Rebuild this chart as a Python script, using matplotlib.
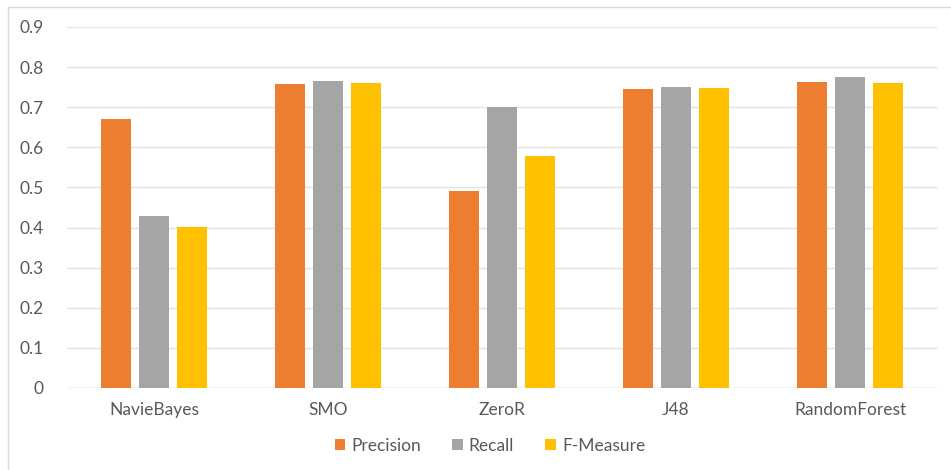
import numpy as np
import matplotlib.pyplot as plt
from matplotlib.lines import Line2D

# classifier results
classifiers = ['NavieBayes', 'SMO', 'ZeroR', 'J48', 'RandomForest']
precision = [0.671, 0.757, 0.492, 0.746, 0.764]
recall = [0.429, 0.765, 0.700, 0.751, 0.775]
f_measure = [0.402, 0.760, 0.578, 0.749, 0.760]

plt.rcParams['font.family'] = ['Lato', 'DejaVu Sans']

fig = plt.figure(figsize=(9.51, 4.70), dpi=100)
ax = fig.add_axes([67 / 951, 82 / 470, 870 / 951, 361 / 470])

x = np.arange(len(classifiers))
w = 30 / 174
step = 38 / 174
ax.bar(x - step, precision, w, color='#ED7D31', label='Precision', zorder=3)
ax.bar(x, recall, w, color='#A5A5A5', label='Recall', zorder=3)
ax.bar(x + step, f_measure, w, color='#FFC000', label='F-Measure', zorder=3)

ax.set_xlim(-0.5, len(classifiers) - 0.5)
ax.set_ylim(0, 0.9)
ax.set_yticks(np.arange(0, 0.91, 0.1))
ax.set_yticklabels(['0'] + [f'{v:.1f}' for v in np.arange(0.1, 0.91, 0.1)])
ax.set_xticks(x)
ax.set_xticklabels(classifiers)
ax.tick_params(length=0, labelsize=12.5, labelcolor='#595959')
ax.tick_params(axis='y', pad=17)
ax.tick_params(axis='x', pad=10)
ax.yaxis.grid(True, color='#E4E4E4', linewidth=1, zorder=0)
for s in ax.spines.values():
    s.set_visible(False)
ax.axhline(0, color='#D9D9D9', linewidth=1, zorder=2)

fig.legend(loc='center', bbox_to_anchor=(490 / 951, 1 - 446 / 470), ncol=3,
           frameon=False, fontsize=12.5, labelcolor='#595959',
           handlelength=0.6, handleheight=0.6, handletextpad=0.35, columnspacing=1.8)

# outer chart frame
fig.add_artist(Line2D([8 / 951, 8 / 951], [0, 1 - 7 / 470], color='#D9D9D9', lw=1))
fig.add_artist(Line2D([8 / 951, 1], [1 - 7 / 470, 1 - 7 / 470], color='#D9D9D9', lw=1))

fig.savefig('out.png', dpi=100)
